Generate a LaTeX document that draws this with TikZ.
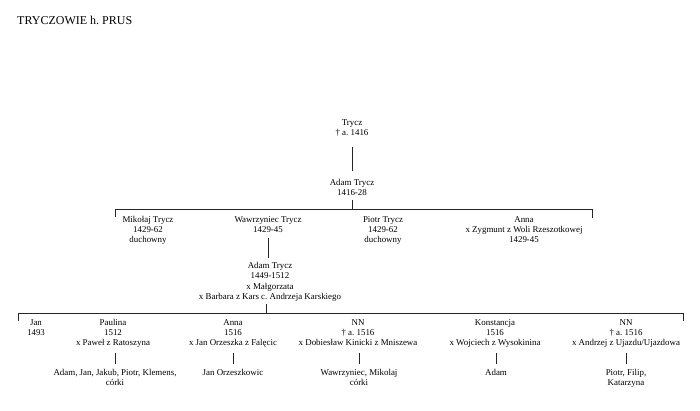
\documentclass[tikz,border=0pt]{standalone}
\usepackage{fontspec}
\setmainfont{Liberation Serif}
\frenchspacing
\begin{document}
\begin{tikzpicture}[x=1pt,y=-1pt,
  person/.style={inner sep=0pt,anchor=base,align=center,font=\fontsize{8.9}{10.3}\selectfont},
  title/.style={inner sep=0pt,anchor=base west,font=\fontsize{12}{14}\selectfont},
  line/.style={draw=black!85,line width=0.8pt}]
\useasboundingbox (0,0) rectangle (700,410);
\node[title] (title) at (17,24) {TRYCZOWIE h. PRUS};
% generation 1 (anchor = baseline of the last line)
\node[person] (trycz) at (352,135.8) {Trycz\\† a. 1416};
\node[person] (adam1) at (352,195.3) {Adam Trycz\\1416-28};
% generation 2
\node[person] (mikolaj) at (148,242.6) {Mikołaj Trycz\\1429-62\\duchowny};
\node[person] (wawrz) at (268,232.3) {Wawrzyniec Trycz\\1429-45};
\node[person] (piotr) at (383,242.6) {Piotr Trycz\\1429-62\\duchowny};
\node[person] (anna1) at (524,242.6) {Anna\\x Zygmunt z Woli Rzeszotkowej\\1429-45};
\node[person] (adam2) at (270,299.4) {Adam Trycz\\1449-1512\\x Małgorzata\\x Barbara z Kars c. Andrzeja Karskiego};
% generation 3
\node[person] (jan) at (36,335.3) {Jan\\1493};
\node[person] (paulina) at (113,345.6) {Paulina\\1512\\x Paweł z Ratoszyna};
\node[person] (anna2) at (233,345.6) {Anna\\1516\\x Jan Orzeszka z Falęcic};
\node[person] (nn1) at (358,345.6) {NN\\† a. 1516\\x Dobiesław Kinicki z Mniszewa};
\node[person] (konst) at (495,345.6) {Konstancja\\1516\\x Wojciech z Wysokinina};
\node[person] (nn2) at (626,345.6) {NN\\† a. 1516\\x Andrzej z Ujazdu/Ujazdowa};
% generation 4
\node[person] (kidsP) at (115,385.3) {Adam, Jan, Jakub, Piotr, Klemens,\\córki};
\node[person] (kidsA) at (233,375) {Jan Orzeszkowic};
\node[person] (kidsN1) at (359,385.3) {Wawrzyniec, Mikolaj\\córki};
\node[person] (kidsK) at (496,375) {Adam};
\node[person] (kidsN2) at (626,385.3) {Piotr, Filip,\\Katarzyna};
% bar coordinates
\coordinate (b2L) at (115,209);
\coordinate (b2R) at (592,209);
\coordinate (b3L) at (18,313);
\coordinate (b3R) at (683,313);
\coordinate (a2tick) at (266,304);
% connectors
\draw[line] (trycz.base |- 0,147) -- (adam1.base |- 0,171);
\draw[line] (adam1.base |- 0,200) -- (adam1.base |- b2L);
\draw[line] ([yshift=-8pt]b2L) -- (b2L) -- (b2R) -- ([yshift=-9pt]b2R);
\draw[line] (wawrz.base |- 0,238) -- (wawrz.base |- 0,258);
\draw[line] (a2tick) -- (a2tick |- b3L);
\draw[line] ([yshift=-8pt]b3L) -- (b3L) -- (b3R) -- ([yshift=-8pt]b3R);
\draw[line] (kidsP.base |- 0,353) -- (kidsP.base |- 0,364);
\draw[line] (kidsA.base |- 0,353) -- (kidsA.base |- 0,364);
\draw[line] (kidsN1.base |- 0,353) -- (kidsN1.base |- 0,364);
\draw[line] (kidsK.base |- 0,353) -- (kidsK.base |- 0,364);
\draw[line] (kidsN2.base |- 0,353) -- (kidsN2.base |- 0,364);
\end{tikzpicture}
\end{document}
